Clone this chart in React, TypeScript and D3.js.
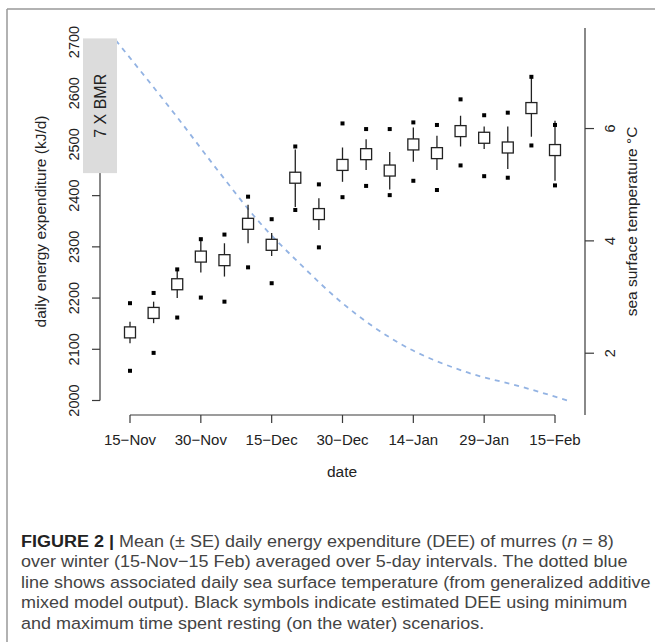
import React from 'react';
import * as d3 from 'd3';

// 5-day intervals from 15-Nov (day 0) to 15-Feb (day 90)
const intervalDays = d3.range(0, 95, 5);
const meanDEE = [2133, 2171, 2227, 2281, 2274, 2345, 2304, 2435, 2364, 2460, 2481, 2449, 2500, 2483, 2526, 2513, 2494, 2571, 2489];
const seUpper = [2154, 2193, 2256, 2315, 2307, 2382, 2327, 2490, 2395, 2494, 2510, 2485, 2533, 2517, 2556, 2535, 2535, 2631, 2546];
const seLower = [2112, 2151, 2200, 2250, 2242, 2307, 2282, 2378, 2333, 2427, 2450, 2412, 2466, 2450, 2496, 2491, 2452, 2515, 2429];
const maxRest = [2190, 2210, 2256, 2315, 2324, 2398, 2354, 2496, 2422, 2541, 2530, 2530, 2543, 2538, 2588, 2557, 2562, 2632, 2538];
const minRest = [2058, 2093, 2162, 2201, 2193, 2260, 2229, 2372, 2299, 2397, 2419, 2401, 2429, 2411, 2459, 2438, 2435, 2498, 2420];

// sea surface temperature (GAMM fit)
const tempDay = [-3, 10, 19, 27, 36, 45, 57, 71, 83, 93];
const tempC = [7.57, 6.2, 5.21, 4.37, 3.59, 2.89, 2.18, 1.67, 1.4, 1.15];

const xTickDays = [0, 15, 30, 45, 60, 75, 90];
const xTickLabels = ['15\u2212Nov', '30\u2212Nov', '15\u2212Dec', '30\u2212Dec', '14\u2212Jan', '29\u2212Jan', '15\u2212Feb'];
const yTicks = [2000, 2100, 2200, 2300, 2400, 2500, 2600, 2700];
const tempTicks = [2, 4, 6];
const bmrBand = [2444, 2707];

const captionLines = [
  'over winter (15-Nov\u221215 Feb) averaged over 5-day intervals. The dotted blue',
  'line shows associated daily sea surface temperature (from generalized additive',
  'mixed model output). Black symbols indicate estimated DEE using minimum',
  'and maximum time spent resting (on the water) scenarios.',
];

const FONT = '"Liberation Sans", Arial, Helvetica, sans-serif';

export default function App() {
  const x = d3.scaleLinear().domain([0, 90]).range([130, 555]);
  const y = d3.scaleLinear().domain([2000, 2700]).range([400.5, 42]);
  const yT = d3.scaleLinear().domain([0.9, 7.79]).range([415, 28]);

  const tempLine = d3.line<number>()
    .x((d, i) => x(tempDay[i]))
    .y(d => yT(d))
    .curve(d3.curveMonotoneX);

  const axisCol = '#3a3a3a';
  const box = 11;
  const dot = 4;

  return (
    <svg width={655} height={642} style={{ position: 'absolute', left: 0, top: 0, background: '#fff' }} fontFamily={FONT}>
      {/* figure frame */}
      <line x1={7} x2={655} y1={9} y2={9} stroke="#999" strokeWidth={1.5} />
      <line x1={7} x2={7} y1={9} y2={642} stroke="#999" strokeWidth={1.5} />

      {/* left axis */}
      <line x1={100} x2={100} y1={y(2000)} y2={y(2700)} stroke={axisCol} strokeWidth={1.2} />
      {yTicks.map(t => (
        <g key={t}>
          <line x1={92} x2={100} y1={y(t)} y2={y(t)} stroke={axisCol} strokeWidth={1.2} />
          <text transform={`translate(74,${y(t)}) rotate(-90)`} textAnchor="middle" dominantBaseline="central" fontSize={14.5} fill="#222">{t}</text>
        </g>
      ))}
      <text transform={`translate(40,${(28 + 415) / 2}) rotate(-90)`} textAnchor="middle" dominantBaseline="central" fontSize={15.5} fill="#222">daily energy expenditure (kJ/d)</text>

      {/* bottom axis */}
      <line x1={x(0)} x2={x(90)} y1={415} y2={415} stroke={axisCol} strokeWidth={1.2} />
      {xTickDays.map((d, i) => (
        <g key={d}>
          <line x1={x(d)} x2={x(d)} y1={415} y2={423} stroke={axisCol} strokeWidth={1.2} />
          <text x={x(d)} y={445} textAnchor="middle" fontSize={15} fill="#222">{xTickLabels[i]}</text>
        </g>
      ))}
      <text x={342} y={477} textAnchor="middle" fontSize={15.5} fill="#222">date</text>

      {/* right axis */}
      <line x1={585} x2={585} y1={yT.range()[1]} y2={yT.range()[0]} stroke={axisCol} strokeWidth={1.2} />
      {tempTicks.map(t => (
        <g key={t}>
          <line x1={585} x2={594} y1={yT(t)} y2={yT(t)} stroke={axisCol} strokeWidth={1.2} />
          <text transform={`translate(610,${yT(t)}) rotate(-90)`} textAnchor="middle" dominantBaseline="central" fontSize={14.5} fill="#222">{t}</text>
        </g>
      ))}
      <text transform={`translate(631,${(28 + 415) / 2}) rotate(-90)`} textAnchor="middle" dominantBaseline="central" fontSize={15.5} fill="#222">sea surface temperature °C</text>

      {/* temperature line */}
      <path d={tempLine(tempC) || ''} fill="none" stroke="#93b3e3" strokeWidth={1.8} strokeDasharray="5 5" />

      {/* 7 x BMR band */}
      <rect x={83} width={34} y={y(bmrBand[1])} height={y(bmrBand[0]) - y(bmrBand[1])} fill="#dcdcdc" />
      <text transform={`translate(100,${(y(bmrBand[0]) + y(bmrBand[1])) / 2}) rotate(-90)`} textAnchor="middle" dominantBaseline="central" fontSize={16} fill="#222">7 X BMR</text>

      {/* DEE intervals */}
      {intervalDays.map((d, i) => {
        const cx = x(d);
        return (
          <g key={d}>
            <line x1={cx} x2={cx} y1={y(seLower[i])} y2={y(seUpper[i])} stroke="#222" strokeWidth={1.3} />
            <rect x={cx - box / 2} y={y(meanDEE[i]) - box / 2} width={box} height={box} fill="#fff" stroke="#222" strokeWidth={1.3} />
            <rect x={cx - dot / 2} y={y(maxRest[i]) - dot / 2} width={dot} height={dot} fill="#000" />
            <rect x={cx - dot / 2} y={y(minRest[i]) - dot / 2} width={dot} height={dot} fill="#000" />
          </g>
        );
      })}

      {/* caption */}
      <g fontSize={17} fill="#444" transform="translate(21,0) scale(1.06,1)">
        <text x={0} y={547}>
          <tspan fontWeight="bold" fill="#222">FIGURE 2 |</tspan>
          <tspan> Mean (± SE) daily energy expenditure (DEE) of murres (</tspan>
          <tspan fontStyle="italic">n</tspan>
          <tspan> = 8)</tspan>
        </text>
        {captionLines.map((l, i) => (
          <text key={i} x={0} y={547 + (i + 1) * 20.5}>{l}</text>
        ))}
      </g>
    </svg>
  );
}
